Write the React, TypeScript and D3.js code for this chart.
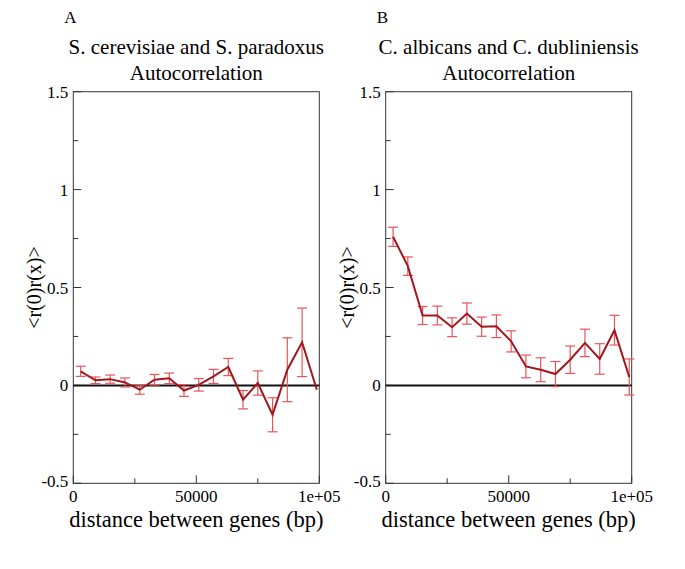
import * as d3 from "d3";
import { useEffect, useRef } from "react";

// distances (bp) at which the autocorrelation was sampled
const distances = [
  3000, 9000, 15000, 21000, 27000, 33000, 39000, 45000, 51000, 57000, 63000,
  69000, 75000, 81000, 87000, 93000, 99000,
];

// panel A: S. cerevisiae / S. paradoxus
const corrA = [
  0.072, 0.026, 0.032, 0.015, -0.022, 0.029, 0.036, -0.026, 0.003, 0.046,
  0.094, -0.073, 0.012, -0.15, 0.08, 0.22, -0.022,
];
const errA = [
  0.026, 0.017, 0.021, 0.023, 0.023, 0.027, 0.027, 0.03, 0.032, 0.036, 0.044,
  0.047, 0.062, 0.087, 0.163, 0.175, 0,
];

// panel B: C. albicans / C. dubliniensis
const corrB = [
  0.759, 0.609, 0.357, 0.357, 0.297, 0.367, 0.3, 0.302, 0.225, 0.097, 0.08,
  0.058, 0.131, 0.217, 0.135, 0.282, 0.043,
];
const errB = [
  0.049, 0.047, 0.046, 0.048, 0.048, 0.054, 0.049, 0.058, 0.054, 0.058, 0.061,
  0.064, 0.07, 0.07, 0.078, 0.076, 0.092,
];

const xTicks = [0, 50000, 100000];
const xTickLabels = ["0", "50000", "1e+05"];
const xMinor = [25000, 75000];
const yTicks = [-0.5, 0, 0.5, 1, 1.5];
const yTickLabels = ["-0.5", "0", "0.5", "1", "1.5"];
const yMinor = [-0.25, 0.25, 0.75, 1.25];

const panels = [
  { letter: "A", title: "S. cerevisiae and S. paradoxus", left: 73.3, corr: corrA, err: errA },
  { letter: "B", title: "C. albicans and C. dubliniensis", left: 385.7, corr: corrB, err: errB },
];

const FONT = "'Liberation Serif', 'Times New Roman', serif";
const W = 685;
const H = 569;

export default function App() {
  const svgRef = useRef<SVGSVGElement | null>(null);

  useEffect(() => {
    const svg = d3.select(svgRef.current);
    svg.selectAll("*").remove();

    const top = 91.7;
    const bottom = 483.3;
    const pw = 246;

    panels.forEach((p) => {
      const x = d3.scaleLinear().domain([0, 100000]).range([p.left, p.left + pw]);
      const y = d3.scaleLinear().domain([-0.5, 1.5]).range([bottom, top]);
      const g = svg.append("g");

      // frame
      g.append("rect")
        .attr("x", p.left)
        .attr("y", top)
        .attr("width", pw)
        .attr("height", bottom - top)
        .attr("fill", "none")
        .attr("stroke", "#333")
        .attr("stroke-width", 1);

      // ticks (inward)
      g.selectAll(".xt")
        .data(xTicks)
        .join("line")
        .attr("x1", (d) => x(d))
        .attr("x2", (d) => x(d))
        .attr("y1", bottom)
        .attr("y2", bottom - 8)
        .attr("stroke", "#333");
      g.selectAll(".xm")
        .data(xMinor)
        .join("line")
        .attr("x1", (d) => x(d))
        .attr("x2", (d) => x(d))
        .attr("y1", bottom)
        .attr("y2", bottom - 5)
        .attr("stroke", "#333");
      g.selectAll(".yt")
        .data(yTicks)
        .join("line")
        .attr("x1", p.left)
        .attr("x2", p.left + 8)
        .attr("y1", (d) => y(d))
        .attr("y2", (d) => y(d))
        .attr("stroke", "#333");
      g.selectAll(".ym")
        .data(yMinor)
        .join("line")
        .attr("x1", p.left)
        .attr("x2", p.left + 5)
        .attr("y1", (d) => y(d))
        .attr("y2", (d) => y(d))
        .attr("stroke", "#333");

      // tick labels
      g.selectAll(".xl")
        .data(xTicks)
        .join("text")
        .attr("x", (d) => x(d))
        .attr("y", bottom + 19)
        .attr("text-anchor", "middle")
        .attr("font-family", FONT)
        .attr("font-size", 17)
        .text((d, i) => xTickLabels[i]);
      g.selectAll(".yl")
        .data(yTicks)
        .join("text")
        .attr("x", p.left - 5)
        .attr("y", (d) => y(d) + (d === -0.5 ? 4 : 6))
        .attr("text-anchor", "end")
        .attr("font-family", FONT)
        .attr("font-size", 17)
        .text((d, i) => yTickLabels[i]);

      // zero line
      g.append("line")
        .attr("x1", x(0))
        .attr("x2", x(100000))
        .attr("y1", y(0))
        .attr("y2", y(0))
        .attr("stroke", "#111")
        .attr("stroke-width", 2);

      // error bars
      const bars = g
        .selectAll(".eb")
        .data(distances.map((d, i) => ({ d, v: p.corr[i], e: p.err[i] })).filter((o) => o.e > 0))
        .join("g")
        .attr("stroke", "#e8555a")
        .attr("stroke-width", 1.2);
      bars
        .append("line")
        .attr("x1", (o) => x(o.d))
        .attr("x2", (o) => x(o.d))
        .attr("y1", (o) => y(o.v + o.e))
        .attr("y2", (o) => y(o.v - o.e));
      [1, -1].forEach((s) =>
        bars
          .append("line")
          .attr("x1", (o) => x(o.d) - 5)
          .attr("x2", (o) => x(o.d) + 5)
          .attr("y1", (o) => y(o.v + s * o.e))
          .attr("y2", (o) => y(o.v + s * o.e))
      );

      // series line
      const line = d3
        .line<number>()
        .x((d, i) => x(distances[i]))
        .y((d) => y(d));
      g.append("path")
        .attr("d", line(p.corr))
        .attr("fill", "none")
        .attr("stroke", "#a3171c")
        .attr("stroke-width", 2);

      // titles
      const cx = p.left + pw / 2;
      g.append("text")
        .attr("x", p.left - 9)
        .attr("y", 23)
        .attr("font-family", FONT)
        .attr("font-size", 17)
        .text(p.letter);
      g.append("text")
        .attr("x", cx)
        .attr("y", 54)
        .attr("text-anchor", "middle")
        .attr("font-family", FONT)
        .attr("font-size", 21)
        .text(p.title);
      g.append("text")
        .attr("x", cx)
        .attr("y", 80)
        .attr("text-anchor", "middle")
        .attr("font-family", FONT)
        .attr("font-size", 21)
        .text("Autocorrelation");
      g.append("text")
        .attr("x", cx)
        .attr("y", 527)
        .attr("text-anchor", "middle")
        .attr("font-family", FONT)
        .attr("font-size", 22.5)
        .text("distance between genes (bp)");
      g.append("text")
        .attr("transform", `translate(${p.left - 32},${(top + bottom) / 2}) rotate(-90)`)
        .attr("text-anchor", "middle")
        .attr("font-family", FONT)
        .attr("font-size", 20)
        .text("<r(0)r(x)>");
    });
  }, []);

  return (
    <svg
      ref={svgRef}
      width={W}
      height={H}
      style={{ position: "absolute", left: 0, top: 0, background: "#fff" }}
    />
  );
}
